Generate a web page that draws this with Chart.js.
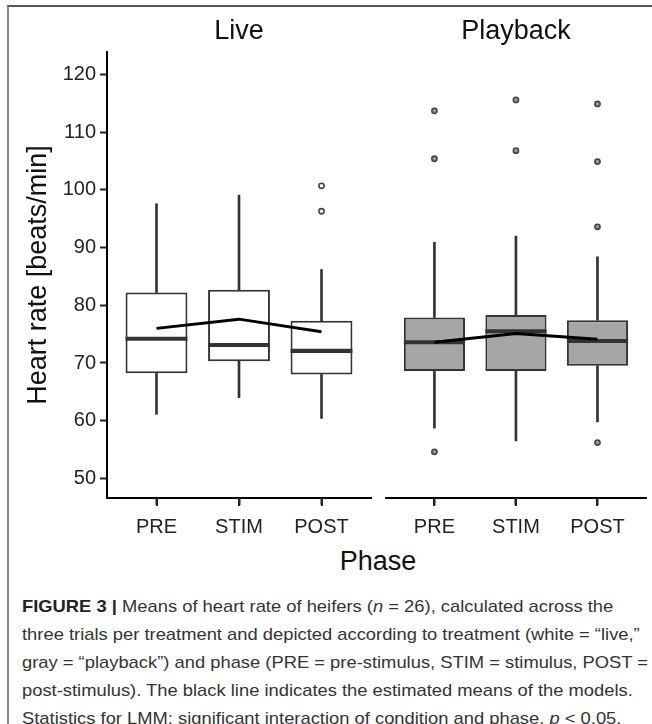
<!DOCTYPE html>
<html>
<head>
<meta charset="utf-8">
<script src="https://cdn.jsdelivr.net/npm/chart.js@4"></script>
<style>
  body { margin: 0; width: 652px; height: 724px; position: relative; overflow: hidden; background: #fff; font-family: "Liberation Sans", Arial, sans-serif; }
  #frame { position: absolute; left: 7px; top: 5px; width: 700px; height: 800px; border-left: 2px solid #888; border-top: 2px solid #555; }
  .panel { position: absolute; top: 0; }
  #phase { position: absolute; left: 278px; top: 545px; width: 200px; text-align: center; font-size: 27px; line-height: 32px; color: #111; }
  #caption { position: absolute; left: 22px; top: 593px; font-size: 17px; line-height: 27.9px; color: #333; white-space: nowrap; transform-origin: 0 0; }
  #caption b { color: #222; }
</style>
</head>
<body>
<div id="frame"></div>
<div class="panel" style="left:0"><canvas id="live" width="378" height="545"></canvas></div>
<div class="panel" style="left:378px"><canvas id="playback" width="274" height="545"></canvas></div>
<div id="phase">Phase</div>
<div id="caption">
  <div><b>FIGURE 3 |</b> Means of heart rate of heifers (<i>n</i> = 26), calculated across the</div>
  <div>three trials per treatment and depicted according to treatment (white = “live,”</div>
  <div id="line3"><span>gray = “playback”) and phase (PRE = pre-stimulus, STIM = stimulus, POST =</span></div>
  <div>post-stimulus). The black line indicates the estimated means of the models.</div>
  <div>Statistics for LMM: significant interaction of condition and phase, <i>p</i> &lt; 0.05.</div>
</div>
<script>
const phases = ["PRE", "STIM", "POST"];
const phasePos = [1, 2, 3];
const yTicks = [50, 60, 70, 80, 90, 100, 110, 120];

// live condition
const liveLow = [61.1, 64.0, 60.4];
const liveQ1 = [68.2, 70.3, 68.0];
const liveMedian = [74.2, 73.1, 72.1];
const liveQ3 = [82.2, 82.7, 77.3];
const liveHigh = [97.6, 99.1, 86.2];
const liveMean = [76.0, 77.6, 75.4];
const liveOutliers = [[], [], [100.7, 96.3]];

// playback condition
const playLow = [58.7, 56.5, 59.8];
const playQ1 = [68.6, 68.6, 69.5];
const playMedian = [73.6, 75.5, 73.8];
const playQ3 = [77.9, 78.3, 77.4];
const playHigh = [90.9, 92.0, 88.4];
const playMean = [73.6, 75.1, 74.1];
const playOutliers = [[113.7, 105.4, 54.6], [115.6, 106.8], [114.9, 104.9, 93.6, 56.2]];

const FONT = "'Liberation Sans', Arial, sans-serif";
const EDGE = "#333";
const MEDIAN_HALF = 0.35; // half thickness of the median bar, in y units

// small tick marks under the x axis, one per phase
const xTickMarks = {
  id: "xTickMarks",
  afterDraw(chart) {
    const ctx = chart.ctx;
    const x = chart.scales.x;
    ctx.save();
    ctx.fillStyle = "#222";
    phasePos.forEach(v => {
      const px = Math.round(x.getPixelForValue(v));
      ctx.fillRect(px - 1, x.top, 2, 8);
    });
    ctx.restore();
  }
};

function panel(canvasId, title, d, fill, showY, pad) {
  const pts = (vals) => phasePos.map((x, i) => ({ x: x, y: vals(i) }));
  const outPts = d.out.flatMap((arr, i) => arr.map(v => ({ x: phasePos[i], y: v })));
  const axisGrid = { display: true, offset: false, drawOnChartArea: false, drawTicks: true,
    tickLength: 7, tickWidth: 2, tickColor: "#222", lineWidth: 1, color: "#222" };

  new Chart(document.getElementById(canvasId), {
    type: "bar",
    plugins: [xTickMarks],
    data: {
      datasets: [
        { type: "line", data: pts(i => d.mean[i]), borderColor: "#000", borderWidth: 3, pointRadius: 0, order: 0 },
        { data: pts(i => [d.med[i] - MEDIAN_HALF, d.med[i] + MEDIAN_HALF]), backgroundColor: EDGE, borderWidth: 0,
          grouped: false, categoryPercentage: 0.75, barPercentage: 1, order: 1 },
        { type: "scatter", data: outPts, pointRadius: 2.6, pointBorderWidth: 1.6, pointBorderColor: "#444",
          pointBackgroundColor: fill === "#fff" ? "#fff" : "#999", order: 2 },
        { data: pts(i => [d.q1[i], d.q3[i]]), backgroundColor: fill, borderColor: EDGE, borderWidth: 2, borderSkipped: false,
          grouped: false, categoryPercentage: 0.75, barPercentage: 1, order: 3 },
        { data: pts(i => [d.q3[i], d.high[i]]), backgroundColor: EDGE, barThickness: 2, grouped: false, order: 4 },
        { data: pts(i => [d.low[i], d.q1[i]]), backgroundColor: EDGE, barThickness: 2, grouped: false, order: 4 }
      ]
    },
    options: {
      responsive: false,
      animation: false,
      layout: { padding: pad },
      plugins: {
        legend: { display: false },
        tooltip: { enabled: false },
        title: { display: true, text: title, fullSize: false, color: "#111",
          font: { family: FONT, size: 27, weight: "normal" }, padding: { top: 15, bottom: 4.6 } }
      },
      scales: {
        x: {
          type: "linear", min: 0.4, max: 3.6, offset: false,
          afterBuildTicks: s => { s.ticks = phasePos.map(v => ({ value: v })); },
          afterFit: s => { s.height = 47; },
          ticks: { callback: (v, i) => phases[i], color: "#222", font: { family: FONT, size: 20 }, padding: 10, maxRotation: 0, autoSkip: false },
          grid: axisGrid,
          border: { display: true, color: "#000", width: 2 }
        },
        y: {
          display: showY, min: 46.6, max: 123.9,
          afterBuildTicks: s => { s.ticks = yTicks.map(v => ({ value: v })); },
          afterFit: s => { if (showY) s.width = 107; },
          ticks: { color: "#222", font: { family: FONT, size: 20 }, padding: 4 },
          grid: axisGrid,
          border: { display: true, color: "#000", width: 2 },
          title: { display: true, text: "Heart rate [beats/min]", color: "#111",
            font: { family: FONT, size: 27 }, padding: { top: 22, bottom: 0 } }
        }
      }
    }
  });
}

panel("live", "Live",
  { low: liveLow, q1: liveQ1, med: liveMedian, q3: liveQ3, high: liveHigh, mean: liveMean, out: liveOutliers },
  "#fff", true, { left: 0, right: 7, top: 0, bottom: 0 });
panel("playback", "Playback",
  { low: playLow, q1: playQ1, med: playMedian, q3: playQ3, high: playHigh, mean: playMean, out: playOutliers },
  "#a6a6a6", false, { left: 7.5, right: 2, top: 0, bottom: 0 });

// squeeze the caption so the longest line fits like in the figure
const cap = document.getElementById("caption");
const w3 = document.querySelector("#line3 span").getBoundingClientRect().width;
cap.style.transform = "scaleX(" + (626 / w3) + ")";
</script>
</body>
</html>
